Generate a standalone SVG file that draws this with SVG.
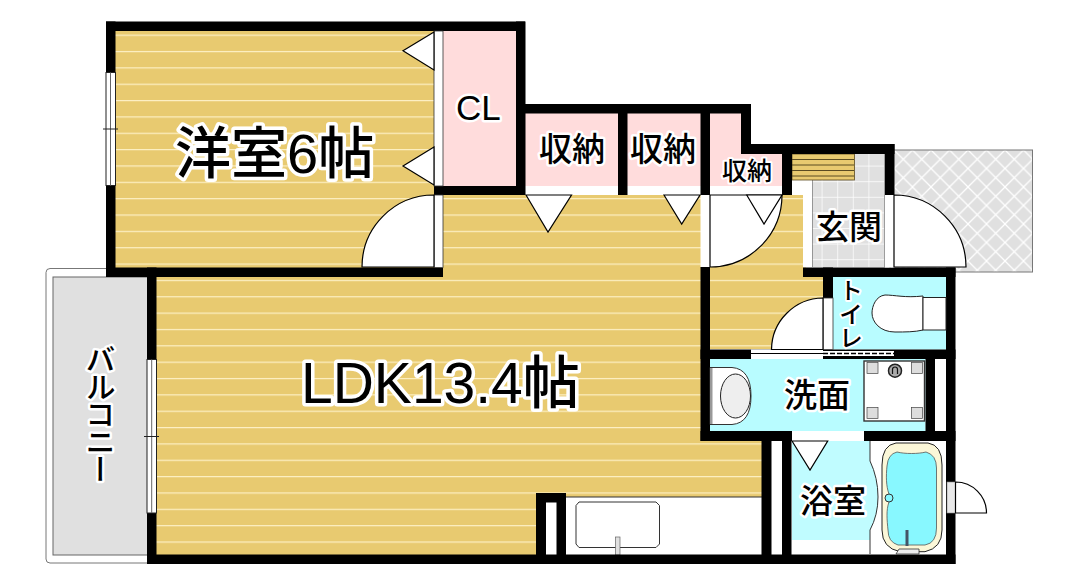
<svg xmlns="http://www.w3.org/2000/svg" width="1082" height="586" viewBox="0 0 1082 586">
<style>
.w{fill:#000}
.wh{fill:#fff}
.d{fill:#fff;stroke:#000;stroke-width:1.2}
.t{font-family:"Liberation Sans","Noto Sans CJK JP",sans-serif;font-weight:500;fill:#000;stroke:#fff;stroke-linejoin:round;paint-order:stroke;}
.win{fill:#fff;stroke:#222;stroke-width:1}
.thin{fill:none;stroke:#222;stroke-width:1}
</style>
<defs>
<pattern id="floor" x="0" y="34.6" width="20" height="16.35" patternUnits="userSpaceOnUse">
<rect width="20" height="16.35" fill="#e8ca70"/><rect width="20" height="1.2" fill="#fdf0c4"/>
</pattern>
<pattern id="lat" x="894" y="150" width="18.5" height="18.5" patternUnits="userSpaceOnUse">
<rect width="18.5" height="18.5" fill="#e0e0e0"/><path d="M0 0L18.5 18.5M18.5 0L0 18.5" stroke="#fff" stroke-width="1.300"/>
</pattern>
<pattern id="tile" x="806" y="150" width="15.6" height="15.6" patternUnits="userSpaceOnUse">
<rect width="15.6" height="15.6" fill="#e0e0e0"/><path d="M0 0H15.6M0 0V15.6" stroke="#fff" stroke-width="1.4"/>
</pattern>
</defs>
<rect width="1082" height="586" fill="#fff"/>

<!-- terrace and balcony -->
<rect x="890" y="150" width="142.500" height="122" fill="url(#lat)" stroke="#777" stroke-width="1"/>
<rect x="46" y="268.500" width="110" height="294.500" rx="4" fill="#fff" stroke="#777" stroke-width="1"/>
<rect x="53" y="277" width="100" height="278" fill="#e0e0e0" stroke="#666" stroke-width="1"/>

<!-- floors -->
<path d="M115 31H440V270H115Z" fill="url(#floor)"/>
<path d="M150 270H443V195H806V270H826V349H704V441H765V555H150Z" fill="url(#floor)"/>

<!-- pink storage -->
<rect x="443" y="31" width="73" height="155" fill="#ffdcdc"/>
<rect x="525" y="113" width="93" height="73" fill="#ffdcdc"/>
<rect x="627" y="113" width="74" height="73" fill="#ffdcdc"/>
<path d="M710 113H741V154H782V186H710Z" fill="#ffdcdc"/>
<rect x="525" y="186" width="93" height="9" fill="#fff"/>
<rect x="627" y="186" width="74" height="9" fill="#fff"/>
<rect x="710" y="186" width="72" height="9" fill="#fff"/>

<!-- entrance -->
<rect x="812" y="154" width="73" height="113" fill="url(#tile)"/>
<path d="M812 180V267M885 154V267" stroke="#777" stroke-width="1.4" fill="none"/>
<rect x="803" y="180" width="9" height="87.500" fill="#fff"/>
<rect x="792" y="154" width="62.500" height="26" fill="#e8ca70" stroke="#5a4a20" stroke-width="0.8"/>
<path d="M792 159.500H854M792 165H854M792 170.500H854M792 176H854" stroke="#4a3c18" stroke-width="0.9" fill="none"/>

<!-- wet rooms -->
<rect x="833" y="277" width="113" height="72.500" fill="#b8fcff"/>
<rect x="710" y="359" width="215.500" height="72" fill="#b8fcff"/>
<rect x="792" y="441" width="78" height="113" fill="#fff"/>
<path d="M792 441H870V461Q878 478 878 497Q878 515 870 530V540H792Z" fill="#c0fcff"/>
<path d="M870 441V461Q878 478 878 497Q878 515 870 530V554" fill="none" stroke="#333" stroke-width="1"/>

<!-- kitchen -->
<rect x="565" y="497" width="197" height="58" fill="#fff"/>
<path d="M565 497H762" stroke="#333" stroke-width="1"/>
<path d="M579 502H656L659.500 505.500V544L656 547.500H579L576 544V505.500Z" fill="#fff" stroke="#333" stroke-width="1"/>
<rect x="615.500" y="537" width="4.500" height="18" fill="#e0e0e0" stroke="#666" stroke-width="0.7"/>

<!-- walls -->
<g class="w">
<rect x="106" y="21.500" width="419" height="9.500"/>
<rect x="106" y="21.500" width="9.500" height="255.500"/>
<rect x="106" y="267.500" width="337" height="9.500"/>
<rect x="516" y="21.500" width="9.500" height="173.500"/>
<rect x="434" y="186" width="91" height="9"/>
<rect x="516" y="104" width="235" height="9.500"/>
<rect x="618" y="104" width="9.500" height="91"/>
<rect x="700.500" y="104" width="9.500" height="91"/>
<rect x="741" y="104" width="10" height="50"/>
<rect x="741" y="144" width="153.500" height="10"/>
<rect x="782" y="144" width="10" height="51"/>
<rect x="885" y="144" width="9.500" height="51"/>
<rect x="147" y="267.500" width="9.500" height="296.500"/>
<rect x="147" y="554.500" width="808.500" height="9.500"/>
<rect x="700.500" y="267" width="9.500" height="174"/>
<rect x="803" y="267.500" width="152.500" height="9.500"/>
<rect x="823" y="267.500" width="10" height="30.500"/>
<rect x="946" y="267.500" width="9.500" height="296.500"/>
<rect x="700.500" y="349.500" width="255" height="9.500"/>
<rect x="700.500" y="431" width="255" height="10"/>
<rect x="925.500" y="359" width="9.500" height="82"/>
<rect x="761.500" y="441" width="30" height="114"/>
<rect x="536" y="493" width="30" height="62"/>
</g>
<rect x="771.500" y="441" width="10.500" height="113.500" fill="#fff"/>
<rect x="546" y="502.500" width="10.500" height="52" fill="#fff"/>
<rect x="935" y="359" width="11" height="72" fill="#fff"/>

<!-- openings -->
<rect x="434" y="31" width="9" height="155" fill="#fff" stroke="#333" stroke-width="0.8"/>
<rect x="434" y="195" width="9" height="72.500" fill="#fff" stroke="#333" stroke-width="0.8"/>
<rect x="700.500" y="195" width="9.500" height="72" fill="#fff"/>
<rect x="885" y="195" width="9.500" height="72.500" fill="#fff"/>
<rect x="823" y="298" width="10" height="51.500" fill="#fff" stroke="#333" stroke-width="0.8"/>
<rect x="751" y="349.500" width="72" height="9.500" fill="#fff"/>
<path d="M751 353.500H823" stroke="#000" stroke-width="1"/>
<rect x="823" y="351" width="71" height="5" fill="#fff"/>
<path d="M823 353.500H894" stroke="#000" stroke-width="1.300" stroke-dasharray="5 2"/>
<rect x="792" y="431" width="72" height="10" fill="#fff"/>
<rect x="947" y="482" width="8.500" height="31" fill="#e8e8e8" stroke="#888" stroke-width="0.6"/>

<!-- windows -->
<rect class="win" x="106" y="72.500" width="9.500" height="113"/>
<path d="M110.500 72.500V185.500" stroke="#666" stroke-width="1"/>
<path d="M103 129H118" class="thin"/>
<rect class="win" x="147" y="359.500" width="9.500" height="153.500"/>
<path d="M151.700 359.500V513" stroke="#666" stroke-width="1"/>
<path d="M144 436.500H159" class="thin"/>

<!-- doors -->
<path class="d" d="M434 195A72 72 0 0 0 362 267H434Z"/>
<path class="d" d="M710 267A72 72 0 0 0 782 195H710Z"/>
<path class="d" d="M894 195A72 72 0 0 1 966 267H894Z"/>
<path class="d" d="M823 298A52 52 0 0 0 771.500 349.500H823Z"/>
<path class="d" d="M955.500 482A31 31 0 0 1 986.500 513H955.500Z"/>

<!-- folding door marks -->
<path class="d" d="M434 32L403 50.700L434 70Z"/>
<path class="d" d="M434 147L403 166L434 185Z"/>
<path class="d" d="M526 195L548 232L571.500 195Z"/>
<path class="d" d="M664 195L681.700 224L700 195Z"/>
<path class="d" d="M746.700 195L764 224L782 195Z"/>
<path class="d" d="M792 441L810 470L827.700 441Z"/>

<!-- toilet -->
<path d="M923 296C905 298 895 295 885 295C876 296 872 306 872 313C872 322 880 332 895 332C905 332 915 332 923 330Z" fill="#fff" stroke="#222" stroke-width="1"/>
<rect x="923" y="297.500" width="23" height="32.500" fill="#fff" stroke="#222" stroke-width="1"/>

<!-- washbasin -->
<path d="M710 367.500H732Q751 369 751 396Q751 423 732 424.500H710Z" fill="#fff" stroke="#333" stroke-width="1"/>
<rect x="710" y="368" width="2.500" height="56" fill="#999"/>
<ellipse cx="735.500" cy="396" rx="15" ry="22" fill="#eee" stroke="#222" stroke-width="1"/>

<!-- washer -->
<rect x="864" y="361" width="60.500" height="60" fill="#fff" stroke="#333" stroke-width="1.400"/>
<g fill="#ddd" stroke="#444" stroke-width="0.7">
<rect x="867" y="362.500" width="11" height="11"/>
<rect x="911.500" y="362.500" width="11" height="11"/>
<rect x="867" y="407.500" width="11" height="11"/>
<rect x="911.500" y="407.500" width="11" height="11"/>
</g>
<circle cx="895" cy="370.700" r="6.500" fill="#aaa" stroke="#222" stroke-width="1.500"/>
<path d="M892.500 374V369.500A2.500 2.500 0 0 1 897.500 369.500V374" fill="none" stroke="#111" stroke-width="1.200"/>

<!-- bathtub -->
<path d="M896 443H928Q942 445 942 465V530Q942 548 925 551.700H900Q882 548 882 530V465Q882 445 896 443Z" fill="#fbf7d8" stroke="#222" stroke-width="1"/>
<path d="M897 452C905 454 918 454 926 452Q936.500 455 936.500 468V528Q936.500 543 925 545H898Q888 542 888 530C887 520 886 510 889 502V494C886 486 886 476 887 466Q888 454 897 452Z" fill="#88f8ff" stroke="#555" stroke-width="0.8"/>
<circle cx="889" cy="498" r="4" fill="#88f8ff" stroke="#333" stroke-width="1"/>
<rect x="905.500" y="530" width="3" height="16" fill="#456"/>
<path d="M899 549H919V554H896Z" fill="#eee" stroke="#333" stroke-width="0.8"/>

<!-- labels -->
<text class="t" x="175" y="173" font-size="56" stroke-width="7">洋室6帖</text>
<text class="t" x="301" y="403" font-size="57" stroke-width="7">LDK13.4帖</text>
<text class="t" x="456" y="120" font-size="35" stroke-width="5">CL</text>
<text class="t" x="539" y="161" font-size="33" stroke-width="5">収納</text>
<text class="t" x="630" y="161" font-size="33" stroke-width="5">収納</text>
<text class="t" x="722" y="180" font-size="25" stroke-width="4">収納</text>
<text class="t" x="816" y="239" font-size="33" stroke-width="5">玄関</text>
<text class="t" x="784" y="407" font-size="33" stroke-width="5">洗面</text>
<text class="t" x="800" y="513" font-size="33" stroke-width="5">浴室</text>
<text class="t" x="849" y="278" font-size="24" stroke-width="4" style="writing-mode:vertical-rl">トイレ</text>
<text class="t" x="98" y="344" font-size="30" stroke-width="5" letter-spacing="-2.500" style="writing-mode:vertical-rl">バルコニー</text>
</svg>
